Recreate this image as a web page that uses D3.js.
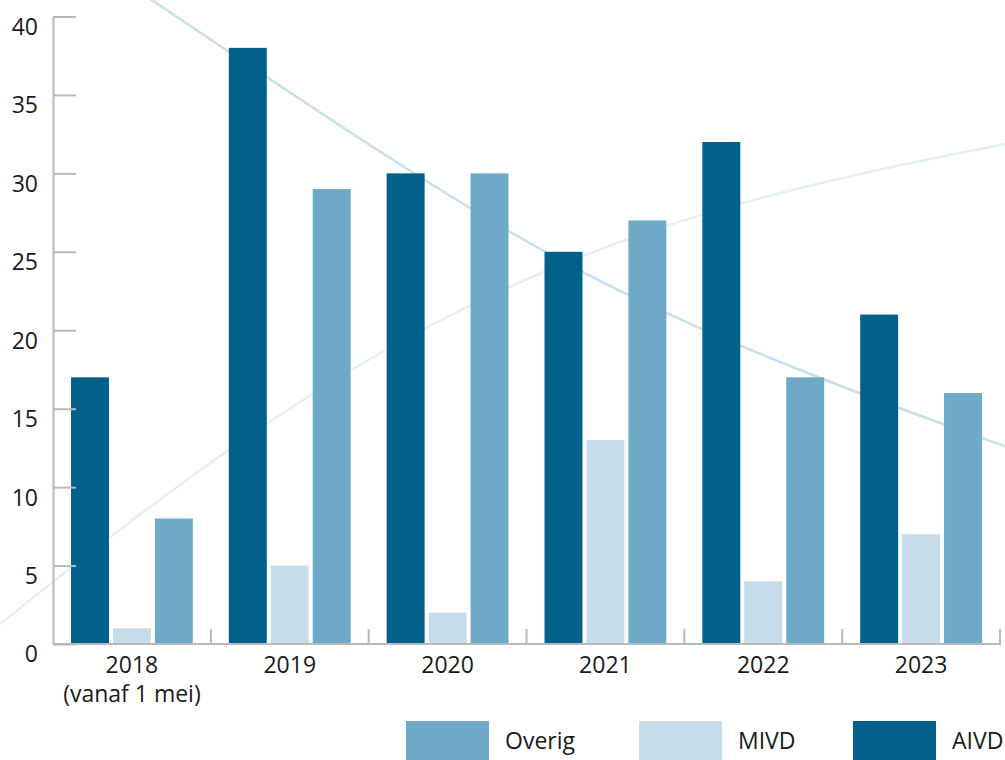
<!DOCTYPE html>
<html>
<head>
  <meta charset="utf-8" />
  <style>
    body { margin: 0; background: #fff; }
    text { font-family: "Open Sans", sans-serif; fill: #1a1a1a; }
    .axis path, .axis line { stroke: #b9b9b9; stroke-width: 2; fill: none; }
  </style>
</head>
<body>
  <svg id="chart" width="1005" height="760"></svg>
  <script src="https://cdn.jsdelivr.net/npm/d3@7/dist/d3.min.js"></script>
<script>
var years = ['2018', '2019', '2020', '2021', '2022', '2023'];
var yearLabels = [['2018', '(vanaf 1 mei)'], ['2019'], ['2020'], ['2021'], ['2022'], ['2023']];
var series = ['AIVD', 'MIVD', 'Overig'];
var aivd = [17, 38, 30, 25, 32, 21];
var mivd = [1, 5, 2, 13, 4, 7];
var overig = [8, 29, 30, 27, 17, 16];
var yTicks = [0, 5, 10, 15, 20, 25, 30, 35, 40];
var legendOrder = ['Overig', 'MIVD', 'AIVD'];

var colors = { AIVD: '#01618a', MIVD: '#c6dcea', Overig: '#6eaac8' };
var values = { AIVD: aivd, MIVD: mivd, Overig: overig };

var svg = d3.select('#chart');
var plotLeft = 53, plotRight = 1000, plotTop = 16.5, plotBottom = 644;

// background swooshes (decoration only)
var swoosh = d3.line().curve(d3.curveBasis);
svg.append('path')
  .attr('d', swoosh([[-10, 632], [180, 480], [420, 320], [700, 205], [1010, 143]]))
  .attr('fill', 'none').attr('stroke', '#e4eff6').attr('stroke-width', 2.5);
svg.append('path')
  .attr('d', swoosh([[146, -4], [330, 120], [560, 268], [800, 373], [1010, 448]]))
  .attr('fill', 'none').attr('stroke', '#c8dfec').attr('stroke-width', 2.5);

var x = d3.scaleBand().domain(years).range([plotLeft, plotRight]);
var xs = d3.scaleBand().domain(series)
  .range([18, x.bandwidth() - 18]).paddingInner(0.095).paddingOuter(0);
var y = d3.scaleLinear().domain([0, 40]).range([plotBottom, plotTop]);

// bars
var groups = svg.append('g').selectAll('g')
  .data(years).join('g')
  .attr('transform', function (d) { return 'translate(' + x(d) + ',0)'; });
groups.selectAll('rect')
  .data(function (d, i) { return series.map(function (s) { return { s: s, v: values[s][i] }; }); })
  .join('rect')
  .attr('x', function (d) { return xs(d.s); })
  .attr('width', xs.bandwidth())
  .attr('y', function (d) { return y(d.v); })
  .attr('height', function (d) { return plotBottom - y(d.v); })
  .attr('fill', function (d) { return colors[d.s]; });

// y axis
var yAxis = svg.append('g').attr('class', 'axis')
  .attr('transform', 'translate(' + plotLeft + ',0)')
  .call(d3.axisLeft(y).tickValues(yTicks).tickSizeInner(-23).tickSizeOuter(0).tickPadding(15));
yAxis.selectAll('text')
  .attr('dy', '0.78em')
  .style('font-size', '23px')
  .style('font-family', '"Open Sans", sans-serif')
  .attr('fill', '#1a1a1a');

// x axis
var xAxis = svg.append('g').attr('class', 'axis');
xAxis.append('line')
  .attr('x1', plotLeft).attr('x2', plotRight).attr('y1', plotBottom).attr('y2', plotBottom);
xAxis.selectAll('line.tick')
  .data(years).join('line').attr('class', 'tick')
  .attr('x1', function (d) { return x(d) + x.bandwidth(); })
  .attr('x2', function (d) { return x(d) + x.bandwidth(); })
  .attr('y1', plotBottom - 15).attr('y2', plotBottom + 1);
xAxis.selectAll('text')
  .data(years).join('text')
  .attr('x', function (d) { return x(d) + x.bandwidth() / 2; })
  .attr('y', plotBottom + 29)
  .attr('text-anchor', 'middle')
  .style('font-size', '23px')
  .each(function (d, i) {
    d3.select(this).selectAll('tspan')
      .data(yearLabels[i]).join('tspan')
      .attr('x', x(d) + x.bandwidth() / 2)
      .attr('dy', function (t, j) { return j ? 29 : 0; })
      .text(function (t) { return t; });
  });

// legend
var legendX = [406, 639, 853];
var lg = svg.append('g').selectAll('g')
  .data(legendOrder).join('g')
  .attr('transform', function (d, i) { return 'translate(' + legendX[i] + ',721)'; });
lg.append('rect').attr('width', 83).attr('height', 40)
  .attr('fill', function (d) { return colors[d]; });
lg.append('text').attr('x', 99).attr('y', 28)
  .style('font-size', '23px')
  .text(function (d) { return d; });
</script>
</body>
</html>
